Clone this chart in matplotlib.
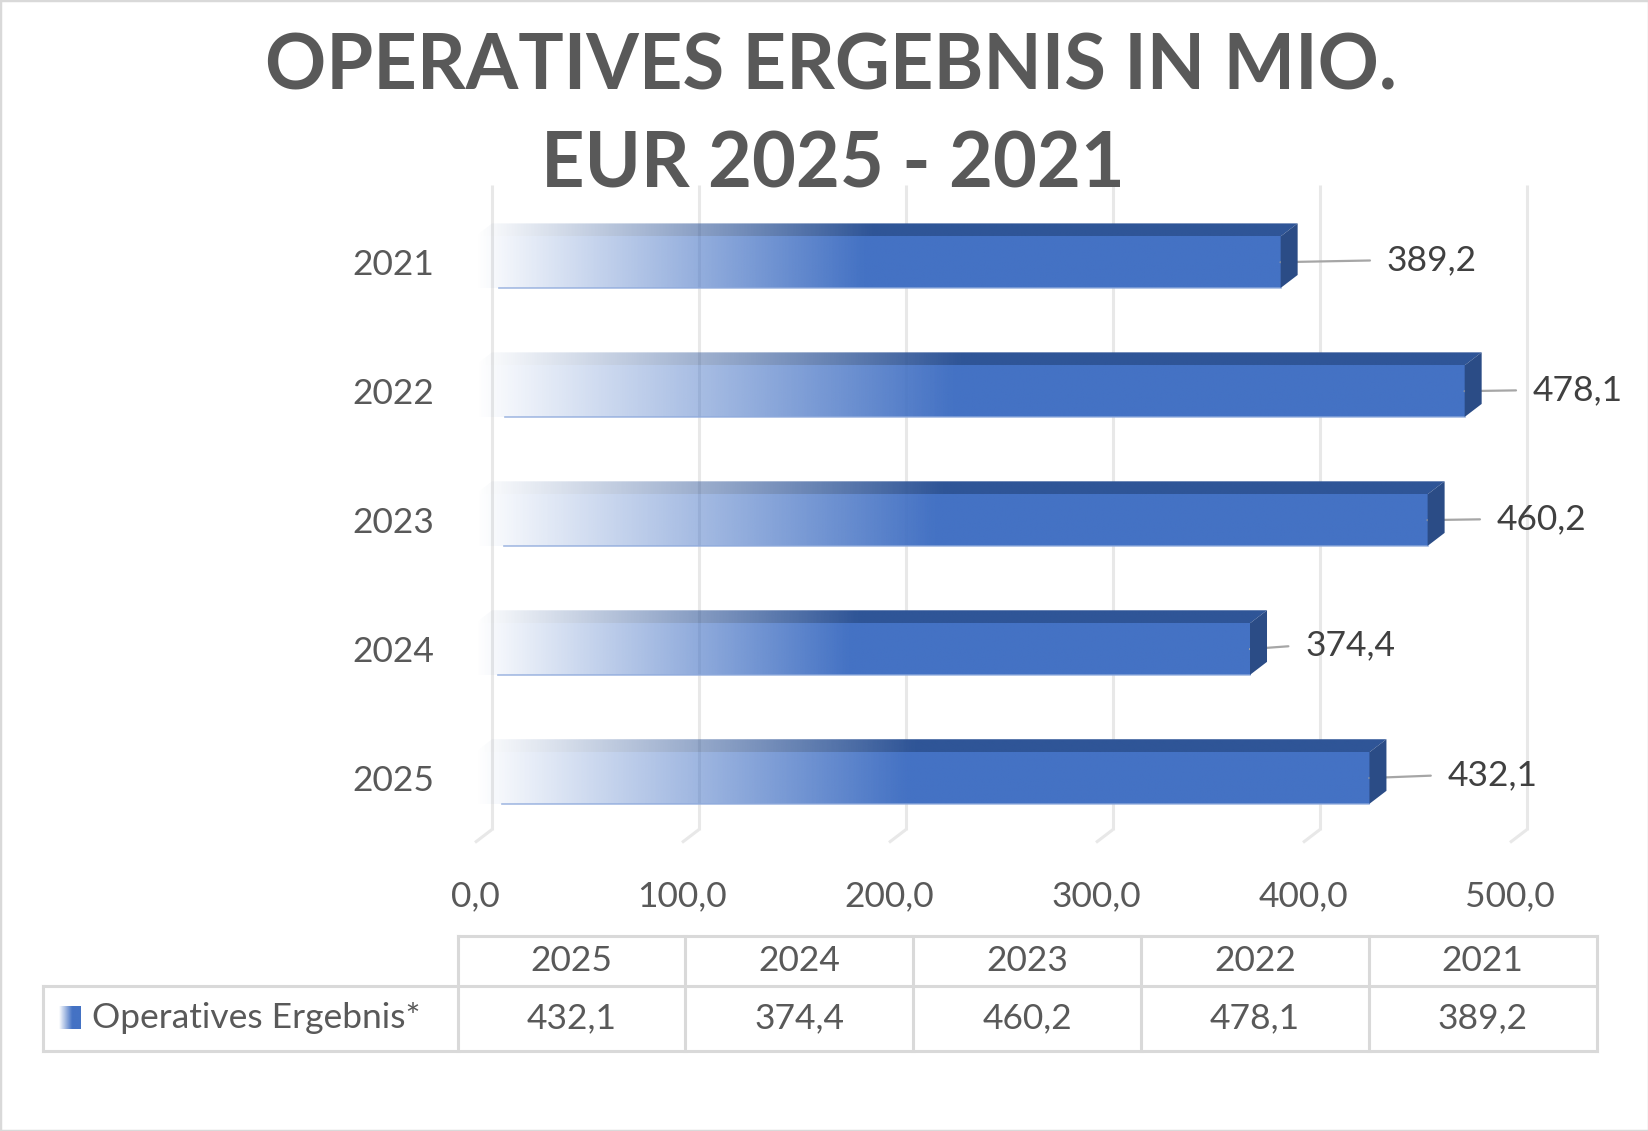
import numpy as np
import matplotlib
matplotlib.use("Agg")
import matplotlib.pyplot as plt
from matplotlib.patches import Polygon, Rectangle
from matplotlib.lines import Line2D
from matplotlib.colors import to_rgb

# data, bottom to top as drawn (and left to right in the table)
years = ["2025", "2024", "2023", "2022", "2021"]
values = [432.1, 374.4, 460.2, 478.1, 389.2]
x_ticks = [0, 100, 200, 300, 400, 500]
series_name = "Operatives Ergebnis*"
title_lines = ["OPERATIVES ERGEBNIS IN MIO.", "EUR 2025 - 2021"]

# hand-placed label offsets in pixels (right, up) from the bar end
label_dx = [78, 55, 69, 68, 106]
label_dy = [3, 4, 1, 1, 2]

W, H = 1649, 1131
DPI = 100
FONT = "Lato"
BLUE = "#4472C4"
TOP = "#2F5597"
SIDE = "#2B4C86"
GRID = "#E8E8E8"
TXT = "#595959"


def fx(x):
    return x / W


def fy(y):
    return 1 - y / H


def fmt(v):
    return f"{v:.1f}".replace(".", ",")


def ramp_img(color, stop=0.48, n=256):
    t = np.linspace(0, 1, n)
    img = np.zeros((1, n, 4))
    img[..., :3] = to_rgb(color)
    img[..., 3] = np.clip(t / stop, 0, 1)
    return img


fig = plt.figure(figsize=(W / DPI, H / DPI), dpi=DPI)
fig.patch.set_facecolor("white")

# front plane: x 0 -> 475px, 500 -> 1510px ; y -0.5 -> 842.5px, 4.5 -> 197.7px
left, right = 475, 1510
bottom, top = 842.5, 197.7
ax = fig.add_axes([fx(left), fy(bottom), (right - left) / W, (bottom - top) / H])
ax.set_xlim(0, 500)
ax.set_ylim(-0.5, 4.5)
for s in ax.spines.values():
    s.set_visible(False)
ax.set_facecolor("none")

# depth offset of the 3d look, in data units
DX = 17 / (right - left) * 500
DY = 13 / (bottom - top) * 5
bh = 0.4
pos = np.arange(len(years))

# back wall gridlines + floor diagonals
for t in x_ticks:
    ax.plot([t + DX, t + DX], [-0.5 + DY, 4.5 + DY], color=GRID, lw=2.2,
            zorder=1, clip_on=False, solid_capstyle="butt")
    ax.plot([t + DX, t], [-0.5 + DY, -0.5], color=GRID, lw=2.2,
            zorder=1, clip_on=False, solid_capstyle="butt")

bars = ax.barh(pos, values, height=bh, color="none", edgecolor="none", zorder=3)

for p, v, bar in zip(pos, values, bars):
    y0, y1 = p - bh / 2, p + bh / 2
    # front face gradient
    im = ax.imshow(ramp_img(BLUE), extent=(0, v, y0, y1), aspect="auto",
                   interpolation="bilinear", zorder=3)
    im.set_clip_path(bar)
    # thin light edge along the bottom of the front face
    ax.plot([v * 0.03, v], [y0, y0], color="#8FAADC", lw=1.2, alpha=0.8, zorder=3)
    # top face
    top_poly = Polygon([(0, y1), (v, y1), (v + DX, y1 + DY), (DX, y1 + DY)],
                       closed=True, fc="none", ec="none", zorder=3)
    ax.add_patch(top_poly)
    im2 = ax.imshow(ramp_img(TOP), extent=(0, v + DX, y1, y1 + DY), aspect="auto",
                    interpolation="bilinear", zorder=3)
    im2.set_clip_path(top_poly)
    # end face
    ax.add_patch(Polygon([(v, y0), (v, y1), (v + DX, y1 + DY), (v + DX, y0 + DY)],
                         closed=True, fc=SIDE, ec="none", zorder=4))

# data labels with leader lines
for p, v, dx, dy in zip(pos, values, label_dx, label_dy):
    ax.annotate(fmt(v), xy=(v, p), xytext=(dx, dy), textcoords="offset pixels",
                ha="left", va="center", fontsize=25.5, family=FONT, color="#404040",
                annotation_clip=False,
                arrowprops=dict(arrowstyle="-", color="#A6A6A6", lw=1.6,
                                relpos=(0, 0.5), shrinkA=10, shrinkB=0))

ax.set_xlim(0, 500)
ax.set_ylim(-0.5, 4.5)
ax.set_xticks(x_ticks, [fmt(t) for t in x_ticks])
ax.set_yticks(pos, years)
ax.tick_params(axis="x", length=0, pad=27, labelsize=25.5, labelcolor=TXT)
ax.tick_params(axis="y", length=0, pad=29, labelsize=25.5, labelcolor=TXT)
for lab in ax.get_xticklabels() + ax.get_yticklabels():
    lab.set_family(FONT)

# title
fig.text(fx(831), fy(89), title_lines[0], ha="center", va="baseline",
         fontsize=54.5, fontweight="bold", family=FONT, color=TXT)
fig.text(fx(833), fy(188), title_lines[1], ha="center", va="baseline",
         fontsize=54.5, fontweight="bold", family=FONT, color=TXT)

# data table below the chart
cols = np.linspace(457.7, 1596.7, len(years) + 1)
r0, r1, r2 = 935.7, 985.7, 1050.7
tc = "#D9D9D9"
lines = [((cols[0], cols[-1]), (r0, r0)),
         ((43.3, cols[-1]), (r1, r1)),
         ((43.3, cols[-1]), (r2, r2)),
         ((43.3, 43.3), (r1, r2))]
for c in cols:
    lines.append(((c, c), (r0, r2)))
for xs, ys in lines:
    fig.add_artist(Line2D([fx(x) for x in xs], [fy(y) for y in ys], color=tc, lw=2.2))

for i, (yr, v) in enumerate(zip(years, values)):
    cx = (cols[i] + cols[i + 1]) / 2
    fig.text(fx(cx), fy((r0 + r1) / 2), yr, ha="center", va="center",
             fontsize=25.5, family=FONT, color=TXT)
    fig.text(fx(cx), fy((r1 + r2) / 2), fmt(v), ha="center", va="center",
             fontsize=25.5, family=FONT, color=TXT)

# legend key inside the table
kax = fig.add_axes([fx(59), fy(1029), (81 - 59) / W, (1029 - 1006) / H])
kax.imshow(ramp_img(BLUE, stop=0.6), aspect="auto", interpolation="bilinear")
kax.axis("off")
fig.text(fx(92), fy((r1 + r2) / 2), series_name, ha="left", va="center",
         fontsize=25.5, family=FONT, color=TXT)

# outer chart border
fig.add_artist(Rectangle((0, 0), 1, 1, transform=fig.transFigure, fill=False,
                         ec="#D9D9D9", lw=2.5))

fig.savefig("out.png", dpi=DPI, facecolor="white")
